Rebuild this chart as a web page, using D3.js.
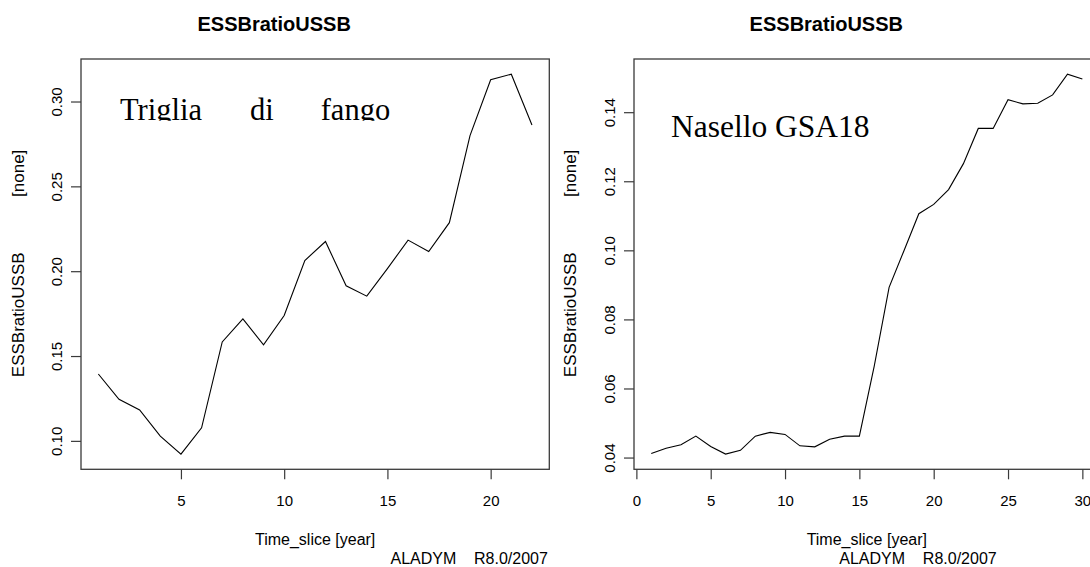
<!DOCTYPE html>
<html><head><meta charset="utf-8">
<script src="https://cdn.jsdelivr.net/npm/d3@7/dist/d3.min.js"></script>
<style>
html,body{margin:0;padding:0;background:#fff;}
svg{display:block;font-family:"Liberation Sans",Arial,Helvetica,sans-serif;}
</style></head><body>
<svg id="chart" width="1090" height="567"></svg>
<script>
// ---------- data ----------
const chartTitle = "ESSBratioUSSB";
const xAxisTitle = "Time_slice [year]";
const yAxisTitle = "ESSBratioUSSB";
const yAxisUnit = "[none]";
const footerText = "ALADYM    R8.0/2007";

const leftYears  = [1,2,3,4,5,6,7,8,9,10,11,12,13,14,15,16,17,18,19,20,21,22];
const leftValues = [0.1394,0.1245,0.1182,0.1028,0.0922,0.1077,0.1583,0.1719,0.1566,0.1739,0.2063,
                    0.2175,0.1914,0.1853,0.2015,0.2183,0.2116,0.2286,0.2799,0.3128,0.3161,0.2862];
const leftXTicks = [5,10,15,20];
const leftYTicks = [0.10,0.15,0.20,0.25,0.30];
const leftNoteWords = ["Triglia","di","fango"];

const rightYears  = [1,2,3,4,5,6,7,8,9,10,11,12,13,14,15,16,17,18,19,20,21,22,23,24,25,26,27,28,29,30];
const rightValues = [0.0412,0.0427,0.0437,0.0462,0.0432,0.0410,0.0421,0.0462,0.0473,0.0467,0.0434,
                     0.0431,0.0453,0.0462,0.0462,0.0665,0.0893,0.0999,0.1106,0.1133,0.1176,0.1251,
                     0.1353,0.1353,0.1436,0.1424,0.1426,0.1450,0.1510,0.1496];
const rightXTicks = [0,5,10,15,20,25,30];
const rightYTicks = [0.04,0.06,0.08,0.10,0.12,0.14];
const rightNote = "Nasello GSA18";

// ---------- layout ----------
const svg = d3.select("#chart");
const boxStroke = "#3a3a3a";

function ext(arr){
  const [a,b] = d3.extent(arr); const d=(b-a)*0.04; return [a-d,b+d];
}

function panel(cfg){
  const g = svg.append("g");
  const x = d3.scaleLinear().domain(ext(cfg.years)).range([cfg.x0,cfg.x1]);
  const y = d3.scaleLinear().domain(ext(cfg.values)).range([cfg.y1,cfg.y0]);

  // title
  g.append("text").attr("x",cfg.titleX).attr("y",30.5).attr("text-anchor","middle")
    .attr("font-size","20px").attr("font-weight","bold").attr("fill","#000").text(chartTitle);

  // x axis
  const xa = g.append("g").attr("transform",`translate(0,${cfg.y1})`)
    .call(d3.axisBottom(x).tickValues(cfg.xTicks).tickSize(10).tickSizeOuter(0).tickFormat(d3.format("d")));
  xa.select(".domain").remove();
  xa.selectAll(".tick line").attr("stroke",boxStroke).attr("stroke-width",1.2);
  xa.selectAll(".tick text").attr("y",37).attr("dy",0).attr("font-size","15px")
    .attr("font-family","Liberation Sans, Arial, sans-serif").attr("fill","#000");

  // y axis
  const ya = g.append("g").attr("transform",`translate(${cfg.x0},0)`)
    .call(d3.axisLeft(y).tickValues(cfg.yTicks).tickSize(10).tickSizeOuter(0).tickFormat(d3.format(".2f")));
  ya.select(".domain").remove();
  ya.selectAll(".tick line").attr("stroke",boxStroke).attr("stroke-width",1.2);
  ya.selectAll(".tick text").attr("x",0).attr("y",0).attr("dy",0)
    .attr("text-anchor","middle").attr("transform","translate(-19.5,0) rotate(-90)")
    .attr("font-size","15px").attr("font-family","Liberation Sans, Arial, sans-serif").attr("fill","#000");

  // box
  g.append("rect").attr("x",cfg.x0).attr("y",cfg.y0)
    .attr("width",cfg.x1-cfg.x0).attr("height",cfg.y1-cfg.y0)
    .attr("fill","none").attr("stroke",boxStroke).attr("stroke-width",1.3);

  // line
  const line = d3.line().x((d,i)=>x(cfg.years[i])).y(d=>y(d));
  g.append("path").datum(cfg.values).attr("d",line)
    .attr("fill","none").attr("stroke","#000").attr("stroke-width",1.1).attr("stroke-linejoin","miter");

  // axis titles
  g.append("text").attr("x",(cfg.x0+cfg.x1)/2).attr("y",544.5).attr("text-anchor","middle")
    .attr("font-size","16px").attr("fill","#000").text(xAxisTitle);
  g.append("text").attr("transform",`translate(${cfg.ylabX},314.8) rotate(-90)`).attr("text-anchor","middle")
    .attr("font-size","17px").attr("fill","#000").text(yAxisTitle);
  g.append("text").attr("transform",`translate(${cfg.ylabX},173.3) rotate(-90)`).attr("text-anchor","middle")
    .attr("font-size","17px").attr("fill","#000").text(yAxisUnit);

  // footer
  g.append("text").attr("x",cfg.footX).attr("y",563.5).attr("text-anchor","middle")
    .attr("font-size","16px").attr("fill","#000").style("white-space","pre").text(footerText);
  return g;
}

const gl = panel({years:leftYears, values:leftValues, xTicks:leftXTicks, yTicks:leftYTicks,
  x0:81, x1:549.3, y0:59, y1:469.3, titleX:274.2, ylabX:24, footX:469.2});
const gr = panel({years:rightYears, values:rightValues, xTicks:rightXTicks, yTicks:rightYTicks,
  x0:634, x1:1099.6, y0:59, y1:469.3, titleX:826.3, ylabX:576, footX:918});

// annotations
svg.append("defs").append("clipPath").attr("id","noteClip")
  .append("rect").attr("x",90).attr("y",70).attr("width",420).attr("height",50.7);
const noteX = [120,250,320.7];
const tl = gl.append("text").attr("clip-path","url(#noteClip)").attr("y",119.5)
  .attr("font-family","Liberation Serif, 'Times New Roman', serif").attr("font-size","30.5px").attr("fill","#000");
tl.selectAll("tspan").data(leftNoteWords).join("tspan").attr("x",(d,i)=>noteX[i]).text(d=>d);

gr.append("text").attr("x",671).attr("y",137.3)
  .attr("font-family","Liberation Serif, 'Times New Roman', serif").attr("font-size","31.5px")
  .attr("fill","#000").text(rightNote);
</script>
</body></html>
